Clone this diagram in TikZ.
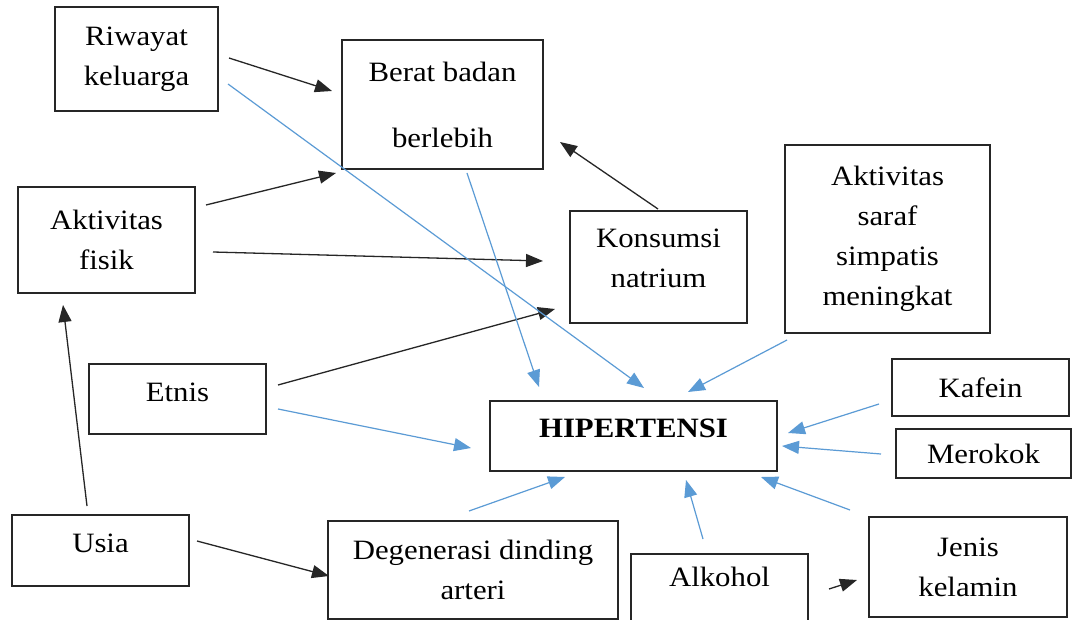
\documentclass[tikz,border=0pt]{standalone}
\usepackage{fontspec}
\setmainfont{Liberation Serif}[FakeStretch=1.1]
\usetikzlibrary{arrows.meta,calc}
\definecolor{bl}{RGB}{91,155,213}
\begin{document}
\begin{tikzpicture}[x=1pt,y=-1pt,
 box/.style={draw=black!85, line width=1.4pt, rectangle, align=center, inner sep=0pt, font=\fontsize{28}{40}\selectfont},
 blk/.style={color=black!85, line width=1.3pt, -{Triangle[length=17pt,width=13pt]}},
 blu/.style={color=bl, line width=1.2pt, -{Triangle[length=17pt,width=13pt]}}]
\fill[white] (0,0) rectangle (1074,620);
\useasboundingbox (0,0) rectangle (1074,620);

\node[box, minimum width=163pt, minimum height=104pt] (rk) at (136.5,59) {Riwayat\\keluarga};
\node[box, minimum width=201pt, minimum height=129pt] (bb) at (442.5,104.5) {Berat badan\\[26pt]berlebih};
\node[box, minimum width=177pt, minimum height=106pt] (af) at (106.5,240) {Aktivitas\\fisik};
\node[box, minimum width=177pt, minimum height=112pt, text depth=18pt] (kn) at (658.5,267) {Konsumsi\\natrium};
\node[box, minimum width=205pt, minimum height=188pt] (as) at (887.5,239) {Aktivitas\\saraf\\simpatis\\meningkat};
\node[box, minimum width=177pt, minimum height=70pt, text depth=14pt] (et) at (177.5,399) {Etnis};
\node[box, minimum width=287pt, minimum height=70pt, text depth=15pt, font=\fontsize{28}{40}\selectfont\bfseries] (hp) at (633.5,436) {HIPERTENSI};
\node[box, minimum width=177pt, minimum height=57pt] (kf) at (980.5,387.5) {Kafein};
\node[box, minimum width=175pt, minimum height=49pt] (mr) at (983.5,453.5) {Merokok};
\node[box, minimum width=177pt, minimum height=71pt, text depth=14pt] (us) at (100.5,550.5) {Usia};
\node[box, minimum width=290pt, minimum height=98pt] (dg) at (473,570) {Degenerasi dinding\\arteri};
\node[box, minimum width=177pt, minimum height=76pt, text depth=30pt] (al) at (719.5,592) {Alkohol};
\node[box, minimum width=198pt, minimum height=100pt] (jk) at (968,567) {Jenis\\kelamin};

% black arrows
\draw[blk] ($(rk)+(92.5,-1)$) -- ($(bb)+(-110.5,-13.5)$);
\draw[blk] ($(af)+(99.5,-35)$) -- ($(bb)+(-106.5,68.5)$);
\draw[blk] ($(af)+(106.5,12)$) -- ($(kn)+(-115.5,-6)$);
\draw[blk] ($(kn)+(-0.5,-58)$) -- ($(bb)+(117.5,37.5)$);
\draw[blk] ($(et)+(100.5,-14)$) -- ($(kn)+(-103.5,42)$);
\draw[blk] ($(us)+(-13.5,-44.5)$) -- ($(af)+(-43.5,65)$);
\draw[blk] ($(us)+(96.5,-9.5)$) -- ($(dg)+(-144,6)$);
\draw[blk] ($(al)+(109.5,-3)$) -- ($(jk)+(-111,13)$);

% blue arrows
\draw[blu] ($(rk)+(91.5,25)$) -- ($(hp)+(10.5,-48)$);
\draw[blu] ($(bb)+(24.5,68.5)$) -- ($(hp)+(-94.5,-49)$);
\draw[blu] ($(as)+(-100.5,101)$) -- ($(hp)+(54.5,-44)$);
\draw[blu] ($(kf)+(-101.5,16.5)$) -- ($(hp)+(154.5,-3)$);
\draw[blu] ($(mr)+(-102.5,0.5)$) -- ($(hp)+(148.5,10)$);
\draw[blu] ($(et)+(100.5,10)$) -- ($(hp)+(-162.5,12)$);
\draw[blu] ($(dg)+(-4,-59)$) -- ($(hp)+(-68.5,41)$);
\draw[blu] ($(al)+(-16.5,-53)$) -- ($(hp)+(52.5,44)$);
\draw[blu] ($(jk)+(-118,-57)$) -- ($(hp)+(127.5,41)$);
\end{tikzpicture}
\end{document}
